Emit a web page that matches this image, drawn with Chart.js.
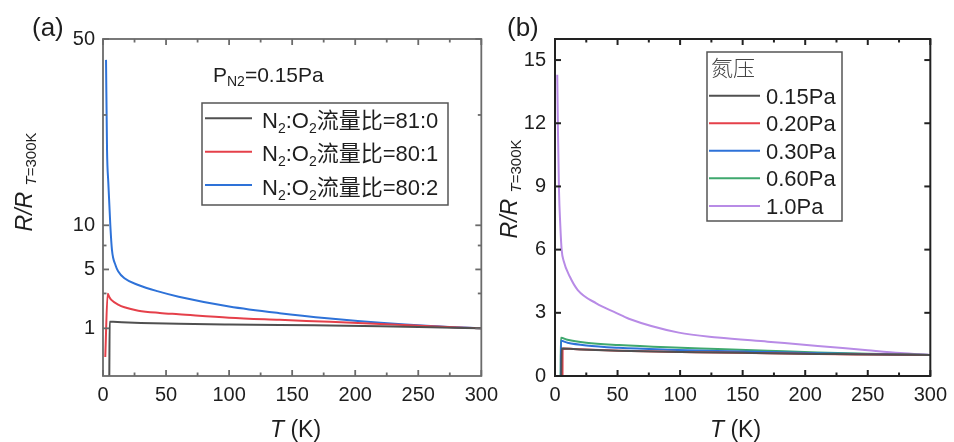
<!DOCTYPE html>
<html>
<head>
<meta charset="utf-8">
<script src="https://cdn.jsdelivr.net/npm/chart.js@4.4.1/dist/chart.umd.min.js"></script>
<style>
  html, body { margin: 0; padding: 0; background: #ffffff; }
  #wrap { position: relative; width: 954px; height: 442px; }
  #boxA { position: absolute; left: 0; top: 0; width: 505px; height: 442px; }
  #boxB { position: absolute; left: 490px; top: 0; width: 464px; height: 442px; }
</style>
</head>
<body>
<div id="wrap">
  <div id="boxA"><canvas id="chartA" width="505" height="442"></canvas></div>
  <div id="boxB"><canvas id="chartB" width="464" height="442"></canvas></div>
</div>
<script>
// ---- panel (a): P_N2 = 0.15 Pa, different N2:O2 ratios ----
const tempA81 = [5.0, 5.3, 8, 15, 30, 60, 100, 140, 180, 220, 260, 300]
const ratioA81 = [0, 1.30, 1.29, 1.27, 1.24, 1.2, 1.17, 1.15, 1.12, 1.09, 1.05, 1.0]
const tempA801 = [1.8, 3.7, 5, 6.6, 12, 17, 28, 45, 60, 100, 140, 180, 220, 260, 300]
const ratioA801 = [0.16, 2.97, 2.75, 2.55, 2.25, 2.08, 1.88, 1.75, 1.68, 1.5, 1.39, 1.29, 1.19, 1.09, 1.0]
const tempA802 = [2.4, 3.2, 4.2, 5.8, 7.1, 10, 12, 17, 28, 43, 60, 100, 140, 180, 220, 260, 300]
const ratioA802 = [44, 22.5, 16.5, 10, 7.0, 5.38, 4.84, 4.2, 3.65, 3.17, 2.77, 2.13, 1.74, 1.46, 1.25, 1.1, 1.0]
const labelsA = ["81:0", "80:1", "80:2"]

// ---- panel (b): different N2 pressures ----
const tempB015 = [5.0, 5.3, 20, 51, 90, 130, 170, 210, 250, 300]
const ratioB015 = [0, 1.3, 1.26, 1.2, 1.15, 1.12, 1.08, 1.05, 1.02, 1.0]
const tempB020 = [6.0, 6.1, 20, 51, 90, 130, 170, 210, 250, 300]
const ratioB020 = [0, 1.31, 1.27, 1.2, 1.15, 1.12, 1.08, 1.04, 1.02, 1.0]
const tempB030 = [4.7, 4.8, 10, 25, 51, 90, 130, 170, 210, 250, 300]
const ratioB030 = [0, 1.67, 1.58, 1.45, 1.34, 1.25, 1.19, 1.14, 1.08, 1.04, 1.0]
const tempB060 = [4.5, 4.7, 10, 25, 51, 90, 130, 170, 210, 250, 300]
const ratioB060 = [0, 1.82, 1.72, 1.58, 1.47, 1.36, 1.28, 1.2, 1.12, 1.06, 1.0]
const tempB10 = [1.8, 2.4, 3.2, 4.2, 5.3, 7, 11.9, 18.2, 33, 48.8, 59, 99, 130, 170, 210, 250, 276, 300]
const ratioB10 = [14.3, 11.5, 8.8, 7.2, 6.0, 5.45, 4.71, 4.08, 3.45, 3.0, 2.72, 2.06, 1.83, 1.63, 1.43, 1.22, 1.09, 1.0]
const labelsB = ["0.15Pa", "0.20Pa", "0.30Pa", "0.60Pa", "1.0Pa"]

// ---- ticks ----
const xMajor = [0, 50, 100, 150, 200, 250, 300]
const xMinor = [25, 75, 125, 175, 225, 275]
const yMajorA = [1, 5, 10, 50]
const yMinorA = [3, 7.5, 30]
const yMajorB = [0, 3, 6, 9, 12, 15]

const colors = ["#505050", "#e5404a", "#2e72d8", "#3fa86e", "#b88be6"]
const FONT = "'Liberation Sans', Arial, 'Noto Sans CJK SC', sans-serif"

// square-root scale (the left panel's y axis)
class SqrtScale extends Chart.LinearScale {
  static id = "sqrt"
  static defaults = Chart.LinearScale.defaults
  getPixelForValue(value) {
    if (value === null || isNaN(value)) return NaN
    const a = Math.sqrt(this.min)
    const b = Math.sqrt(this.max)
    return this.getPixelForDecimal((Math.sqrt(Math.max(value, 0)) - a) / (b - a))
  }
  getValueForPixel(pixel) {
    const a = Math.sqrt(this.min)
    const b = Math.sqrt(this.max)
    const s = a + this.getDecimalForPixel(pixel) * (b - a)
    return s * s
  }
}
Chart.register(SqrtScale)

function pts(ts, vs) {
  return ts.map((t, i) => ({ x: t, y: vs[i] }))
}

function rich(ctx, x, y, parts, align) {
  let w = 0
  parts.forEach((p) => {
    ctx.font = (p[2] || "") + " " + p[1] + "px " + FONT
    w += ctx.measureText(p[0]).width
  })
  let cx = align === "center" ? x - w / 2 : x
  parts.forEach((p) => {
    ctx.font = (p[2] || "") + " " + p[1] + "px " + FONT
    ctx.fillText(p[0], cx, y + (p[3] || 0))
    cx += ctx.measureText(p[0]).width
  })
}

const frameTicks = {
  id: "frameTicks",
  afterDraw(chart, args, opts) {
    const { ctx, chartArea: a } = chart
    const x = chart.scales.x
    const y = chart.scales.y
    ctx.save()
    ctx.strokeStyle = opts.color
    ctx.lineWidth = opts.width
    const seg = (x1, y1, x2, y2) => {
      ctx.beginPath()
      ctx.moveTo(x1, y1)
      ctx.lineTo(x2, y2)
      ctx.stroke()
    }
    const xt = (vals, len) =>
      vals.forEach((v) => {
        const p = x.getPixelForValue(v)
        seg(p, a.bottom, p, a.bottom - len)
        seg(p, a.top, p, a.top + len)
      })
    const yt = (vals, len) =>
      vals.forEach((v) => {
        const p = y.getPixelForValue(v)
        seg(a.left, p, a.left + len, p)
        seg(a.right, p, a.right - len, p)
      })
    xt(xMajor, 6)
    xt(xMinor, 3.5)
    yt(opts.yMajor, 6)
    yt(opts.yMinor, 3.5)
    ctx.strokeRect(a.left, a.top, a.right - a.left, a.bottom - a.top)
    ctx.restore()
  },
}

const textsA = {
  id: "textsA",
  afterDraw(chart) {
    const ctx = chart.ctx
    ctx.save()
    ctx.fillStyle = "#1e1e1e"
    ctx.textBaseline = "alphabetic"
    rich(ctx, 32, 36, [["(a)", 26]])
    rich(ctx, 213, 82, [["P", 21], ["N2", 14, "", 4], ["=0.15Pa", 21]])
    rich(ctx, 270, 437, [["T", 23, "italic"], [" (K)", 23]])
    ctx.save()
    ctx.translate(32, 182)
    ctx.rotate(-Math.PI / 2)
    rich(ctx, 0, 0, [["R/R ", 23, "italic"], ["T", 15, "italic", 4], ["=300K", 15, "", 4]], "center")
    ctx.restore()
    // legend
    ctx.strokeStyle = "#555"
    ctx.lineWidth = 1.5
    ctx.strokeRect(202, 103, 246, 102)
    const rows = [118.3, 151.7, 185]
    rows.forEach((ly, i) => {
      ctx.strokeStyle = colors[i]
      ctx.lineWidth = 2
      ctx.beginPath()
      ctx.moveTo(205, ly)
      ctx.lineTo(252, ly)
      ctx.stroke()
      rich(ctx, 262, ly + 9.5, [["N", 22], ["2", 14, "", 5], [":O", 22], ["2", 14, "", 5], ["流量比=" + labelsA[i], 22]])
    })
    ctx.restore()
  },
}

const textsB = {
  id: "textsB",
  afterDraw(chart) {
    const ctx = chart.ctx
    ctx.save()
    ctx.fillStyle = "#1e1e1e"
    ctx.textBaseline = "alphabetic"
    rich(ctx, 17, 36, [["(b)", 26]])
    rich(ctx, 220, 437, [["T", 23, "italic"], [" (K)", 23]])
    ctx.save()
    ctx.translate(27, 189)
    ctx.rotate(-Math.PI / 2)
    rich(ctx, 0, 0, [["R/R ", 23, "italic"], ["T", 15, "italic", 4], ["=300K", 15, "", 4]], "center")
    ctx.restore()
    // legend
    ctx.strokeStyle = "#555"
    ctx.lineWidth = 1.5
    ctx.strokeRect(217, 52, 135, 169)
    ctx.fillStyle = "#444"
    ctx.font = "300 22px 'Noto Sans CJK SC'"
    ctx.fillText("氮压", 221, 75.5)
    ctx.fillStyle = "#1e1e1e"
    const rows = [95.7, 123.3, 150.7, 178.3, 206]
    rows.forEach((ly, i) => {
      ctx.strokeStyle = colors[i]
      ctx.lineWidth = 2
      ctx.beginPath()
      ctx.moveTo(219, ly)
      ctx.lineTo(270, ly)
      ctx.stroke()
      rich(ctx, 276, ly + 8, [[labelsB[i], 22]])
    })
    ctx.restore()
  },
}

function lineSet(data, color) {
  return {
    data: data,
    borderColor: color,
    backgroundColor: color,
    borderWidth: 2,
    pointRadius: 0,
    cubicInterpolationMode: "monotone",
    fill: false,
  }
}

function baseOptions(yOpts, yWidth, padRight, frame) {
  return {
    responsive: false,
    animation: false,
    devicePixelRatio: 1,
    layout: { padding: { left: 0, top: 39, right: padRight, bottom: 0 } },
    plugins: {
      legend: { display: false },
      tooltip: { enabled: false },
      frameTicks: frame,
    },
    scales: {
      x: {
        type: "linear",
        min: 0,
        max: 300,
        grid: { display: false, drawTicks: false },
        border: { display: false },
        ticks: {
          stepSize: 50,
          padding: 7,
          color: "#1e1e1e",
          font: { family: FONT, size: 20 },
          maxRotation: 0,
        },
        afterFit: (s) => {
          s.height = 66
        },
      },
      y: Object.assign(
        {
          grid: { display: false, drawTicks: false },
          border: { display: false },
          afterFit: (s) => {
            s.width = yWidth
          },
        },
        yOpts,
      ),
    },
  }
}

new Chart(document.getElementById("chartA"), {
  type: "line",
  data: {
    datasets: [
      lineSet(pts(tempA81, ratioA81), colors[0]),
      lineSet(pts(tempA801, ratioA801), colors[1]),
      lineSet(pts(tempA802, ratioA802), colors[2]),
    ],
  },
  options: baseOptions(
    {
      type: "sqrt",
      min: 0,
      max: 50,
      afterBuildTicks: (s) => {
        s.ticks = yMajorA.map((v) => ({ value: v }))
      },
      ticks: {
        autoSkip: false,
        padding: 8,
        color: "#1e1e1e",
        font: { family: FONT, size: 20 },
        callback: (v) => String(v),
      },
    },
    103,
    23,
    { color: "#6b6b6b", width: 1.8, yMajor: yMajorA, yMinor: yMinorA },
  ),
  plugins: [frameTicks, textsA],
})

new Chart(document.getElementById("chartB"), {
  type: "line",
  data: {
    datasets: [
      lineSet(pts(tempB015, ratioB015), colors[0]),
      lineSet(pts(tempB020, ratioB020), colors[1]),
      lineSet(pts(tempB030, ratioB030), colors[2]),
      lineSet(pts(tempB060, ratioB060), colors[3]),
      lineSet(pts(tempB10, ratioB10), colors[4]),
    ],
  },
  options: baseOptions(
    {
      type: "linear",
      min: 0,
      max: 16,
      afterBuildTicks: (s) => {
        s.ticks = yMajorB.map((v) => ({ value: v }))
      },
      ticks: {
        autoSkip: false,
        padding: 9,
        color: "#1e1e1e",
        font: { family: FONT, size: 20 },
        callback: (v) => String(v),
      },
    },
    65,
    20,
    { color: "#222222", width: 2, yMajor: yMajorB, yMinor: [] },
  ),
  plugins: [frameTicks, textsB],
})
</script>
</body>
</html>
